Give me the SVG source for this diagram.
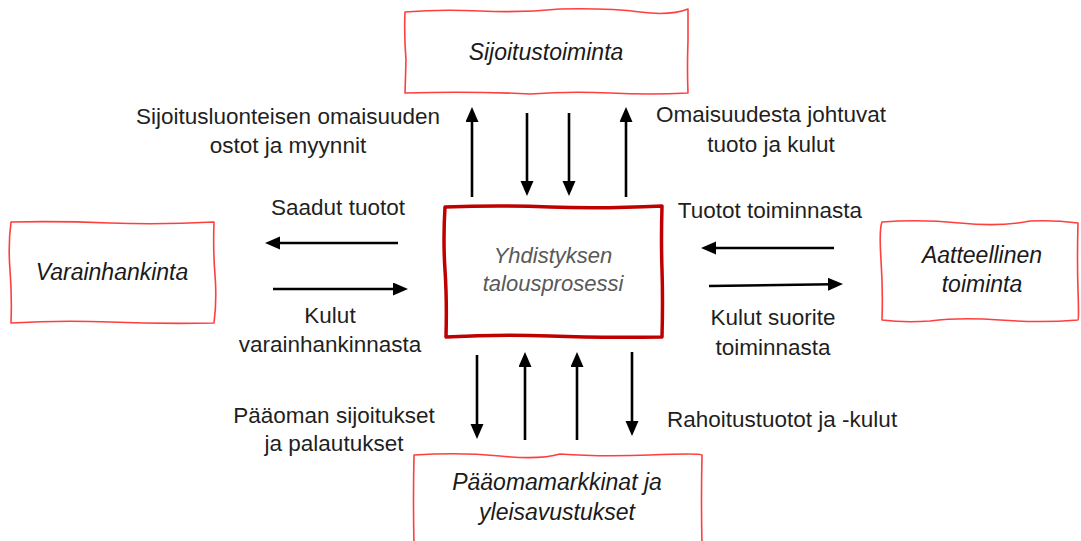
<svg xmlns="http://www.w3.org/2000/svg" width="1081" height="541" viewBox="0 0 1081 541">
<style>
.bg{fill:#ffffff}
.box{fill:#ffffff;stroke:#ff2a2a;stroke-width:1.6;stroke-linejoin:round;opacity:0.9}
.main{fill:#ffffff;stroke:#c00000;stroke-width:3.5;stroke-linejoin:round}
.nt{font-family:"Liberation Sans",Arial,sans-serif;font-size:23px;font-style:italic;fill:#1a1a1a;text-anchor:middle}
.mt{font-family:"Liberation Sans",Arial,sans-serif;font-size:22px;font-style:italic;fill:#595959;text-anchor:middle}
.lb{font-family:"Liberation Sans",Arial,sans-serif;font-size:22.5px;fill:#1f1f1f;text-anchor:middle}
.lbs{font-family:"Liberation Sans",Arial,sans-serif;font-size:22.5px;fill:#1f1f1f}
.ar{fill:none;stroke:#000;stroke-width:2.6}
</style>
<defs>
<marker id="ah" markerUnits="userSpaceOnUse" markerWidth="16" markerHeight="14" refX="4" refY="6.5" orient="auto">
<path d="M0,0 L15,6.5 L0,13 Z" fill="#000"/>
</marker>
</defs>
<rect class="bg" x="0" y="0" width="1081" height="541"/>

<g id="sijoitustoiminta">
<path class="box" d="M405,12 Q440,9 480,11 T560,9 Q610,8 640,12 T688,9 L688,40 Q687,70 688,93 Q650,95 610,93 T530,94 Q470,91 405,93 L406,60 Q404,35 405,12 Z"/>
<text class="nt" x="546" y="60">Sijoitustoiminta</text>
</g>

<g id="varainhankinta">
<path class="box" d="M11,222 Q60,221 110,223 T214,222 Q213,250 215,275 T214,323 Q160,324 110,322 T11,323 Q12,295 10,270 T11,222 Z"/>
<text class="nt" x="112" y="280">Varainhankinta</text>
</g>

<g id="aatteellinen">
<path class="box" d="M882,222 Q920,219 960,223 T1030,221 Q1055,220 1078,223 Q1077,260 1078,290 T1078,320 Q1040,323 1000,320 T930,321 Q905,323 882,320 Q883,290 881,260 T882,222 Z"/>
<text class="nt" x="982" y="263">Aatteellinen</text>
<text class="nt" x="982" y="292">toiminta</text>
</g>

<g id="paaomamarkkinat">
<path class="box" d="M414,455 Q460,452 500,456 T560,454 Q600,457 650,455 T702,455 Q701,500 702,545 L414,545 Q413,500 414,455 Z"/>
<text class="nt" x="557" y="490">Pääomamarkkinat ja</text>
<text class="nt" x="557" y="520">yleisavustukset</text>
</g>

<g id="talousprosessi">
<path class="main" d="M445,207 Q500,205 550,207 T662,206 Q661,240 662,270 T662,337 Q600,338 550,336 T446,337 Q447,300 445,270 T445,207 Z"/>
<text class="mt" x="553" y="263">Yhdistyksen</text>
<text class="mt" x="553" y="291">talousprosessi</text>
</g>

<g id="connectors">
<path class="ar" marker-end="url(#ah)" d="M472,197 L472,118"/>
<path class="ar" marker-end="url(#ah)" d="M527,113 L527,185"/>
<path class="ar" marker-end="url(#ah)" d="M569,113 L569,185"/>
<path class="ar" marker-end="url(#ah)" d="M626,197 L626,118"/>
<path class="ar" marker-end="url(#ah)" d="M398,243 L276,243"/>
<path class="ar" marker-end="url(#ah)" d="M273,289 L397,289"/>
<path class="ar" marker-end="url(#ah)" d="M834,248 L712,248"/>
<path class="ar" marker-end="url(#ah)" d="M709,286 L832,284.2"/>
<path class="ar" marker-end="url(#ah)" d="M477,355 L477,428"/>
<path class="ar" marker-end="url(#ah)" d="M525,440 L525,363"/>
<path class="ar" marker-end="url(#ah)" d="M577,440 L577,363"/>
<path class="ar" marker-end="url(#ah)" d="M632,352 L632,425"/>
</g>

<g id="labels">
<text class="lb" x="288" y="124">Sijoitusluonteisen omaisuuden</text>
<text class="lb" x="288" y="153">ostot ja myynnit</text>
<text class="lb" x="771" y="122">Omaisuudesta johtuvat</text>
<text class="lb" x="771" y="152">tuoto ja kulut</text>
<text class="lb" x="338" y="215">Saadut tuotot</text>
<text class="lb" x="770" y="218">Tuotot toiminnasta</text>
<text class="lb" x="330" y="323">Kulut</text>
<text class="lb" x="330" y="352">varainhankinnasta</text>
<text class="lb" x="773" y="325">Kulut suorite</text>
<text class="lb" x="773" y="355">toiminnasta</text>
<text class="lb" x="334" y="423">Pääoman sijoitukset</text>
<text class="lb" x="334" y="451">ja palautukset</text>
<text class="lbs" x="667" y="427">Rahoitustuotot ja -kulut</text>
</g>
</svg>
